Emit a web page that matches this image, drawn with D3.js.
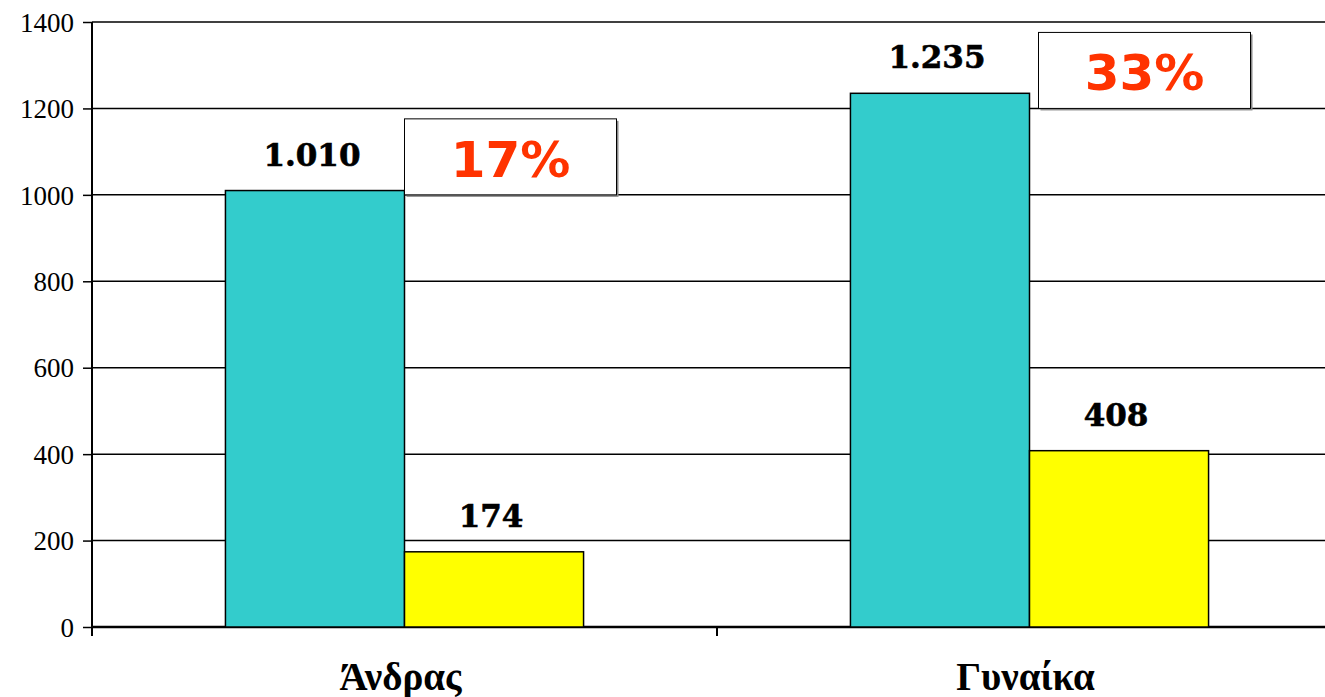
<!DOCTYPE html>
<html>
<head>
<meta charset="utf-8">
<script src="https://cdn.jsdelivr.net/npm/d3@7"></script>
<style>
  body { margin: 0; background: #fff; }
  svg { display: block; }
</style>
</head>
<body>
<svg id="chart"></svg>
<script>
// categories and two series
const categories = ["Άνδρας", "Γυναίκα"]
const totalValues = [1010, 1235]
const subValues = [174, 408]
const valueLabels = [["1.010", "174"], ["1.235", "408"]]
const shareLabels = ["17%", "33%"]
const yTicks = [0, 200, 400, 600, 800, 1000, 1200, 1400]

const width = 1325
const height = 697
const margin = { top: 22, right: -17, bottom: 70, left: 92 }

const svg = d3.select("#chart")
  .attr("width", width)
  .attr("height", height)

const x = d3.scaleBand()
  .domain(categories)
  .range([margin.left, width - margin.right])

const inner = d3.scaleBand()
  .domain([0, 1])
  .range([0, x.bandwidth() * 0.573])

const y = d3.scaleLinear()
  .domain([0, 1400])
  .range([height - margin.bottom, margin.top])

// gridlines
svg.append("g")
  .selectAll("line")
  .data(yTicks.filter(d => d > 0))
  .join("line")
  .attr("x1", margin.left)
  .attr("x2", width)
  .attr("y1", d => y(d))
  .attr("y2", d => y(d))
  .attr("stroke", "#000")
  .attr("stroke-width", 1.5)

// y axis
const yAxis = svg.append("g")
  .attr("transform", `translate(${margin.left},0)`)
  .call(d3.axisLeft(y).tickValues(yTicks).tickFormat(d3.format("d")).tickSize(9).tickPadding(9))
  .attr("font-family", "'Liberation Serif', serif")
  .attr("font-size", 27)
yAxis.select(".domain").remove()
yAxis.selectAll(".tick line").attr("stroke-width", 1.5)
yAxis.selectAll("text")
  .style("font-family", "'Liberation Serif', serif")
  .attr("fill", "#000")
  .attr("dy", "0.34em")

svg.append("line")
  .attr("x1", margin.left).attr("x2", margin.left)
  .attr("y1", y(1400)).attr("y2", y(0) + 9)
  .attr("stroke", "#000").attr("stroke-width", 2)

// x axis
svg.append("line")
  .attr("x1", margin.left).attr("x2", width)
  .attr("y1", y(0)).attr("y2", y(0))
  .attr("stroke", "#000").attr("stroke-width", 2.5)

svg.append("g")
  .selectAll("line")
  .data(categories)
  .join("line")
  .attr("x1", d => x(d)).attr("x2", d => x(d))
  .attr("y1", y(0)).attr("y2", y(0) + 9)
  .attr("stroke", "#000").attr("stroke-width", 2)

svg.append("g")
  .selectAll("text")
  .data(categories)
  .join("text")
  .attr("x", d => x(d) + x.bandwidth() / 2 - 4)
  .attr("y", 690)
  .attr("text-anchor", "middle")
  .style("font-family", "'Liberation Serif', serif")
  .attr("font-weight", "bold")
  .attr("font-size", 39)
  .text(d => d)

// bars
const colors = ["#33CCCC", "#FFFF00"]
const groups = svg.append("g")
  .selectAll("g")
  .data(categories.map((c, i) => ({ c, vals: [totalValues[i], subValues[i]], labels: valueLabels[i] })))
  .join("g")
  .attr("transform", d => `translate(${x(d.c) + (x.bandwidth() - inner.range()[1]) / 2},0)`)

groups.selectAll("rect")
  .data(d => d.vals)
  .join("rect")
  .attr("x", (d, i) => inner(i))
  .attr("y", d => y(d))
  .attr("width", inner.bandwidth())
  .attr("height", d => y(0) - y(d))
  .attr("fill", (d, i) => colors[i])
  .attr("stroke", "#000")
  .attr("stroke-width", 1.5)

groups.selectAll("text")
  .data(d => d.vals.map((v, i) => ({ v, label: d.labels[i] })))
  .join("text")
  .attr("x", (d, i) => inner(i) + inner.bandwidth() / 2 - 3)
  .attr("y", d => y(d.v) - 25)
  .attr("text-anchor", "middle")
  .style("font-family", "'DejaVu Serif', serif")
  .attr("font-weight", "bold")
  .attr("font-size", 31)
  .attr("stroke", "#000")
  .attr("stroke-width", 0.6)
  .text(d => d.label)

// percentage boxes
const boxW = 212
const boxH = 76
const boxes = svg.append("g")
  .selectAll("g")
  .data(categories.map((c, i) => ({ c, label: shareLabels[i], base: [1000, 1200][i], shift: [0, 9][i] })))
  .join("g")
  .attr("transform", d => `translate(${x(d.c) + (x.bandwidth() - inner.range()[1]) / 2 + inner(1) + d.shift},${y(d.base) - boxH})`)

boxes.append("rect")
  .attr("x", 2).attr("y", 2)
  .attr("width", boxW).attr("height", boxH)
  .attr("fill", "#888")
boxes.append("rect")
  .attr("width", boxW).attr("height", boxH)
  .attr("fill", "#fff")
  .attr("stroke", "#000")
  .attr("stroke-width", 1)
boxes.append("text")
  .attr("x", boxW / 2)
  .attr("y", 58)
  .attr("text-anchor", "middle")
  .style("font-family", "'DejaVu Sans', sans-serif")
  .attr("font-weight", "bold")
  .attr("font-size", 50)
  .attr("fill", "#FF3300")
  .text(d => d.label)
</script>
</body>
</html>
